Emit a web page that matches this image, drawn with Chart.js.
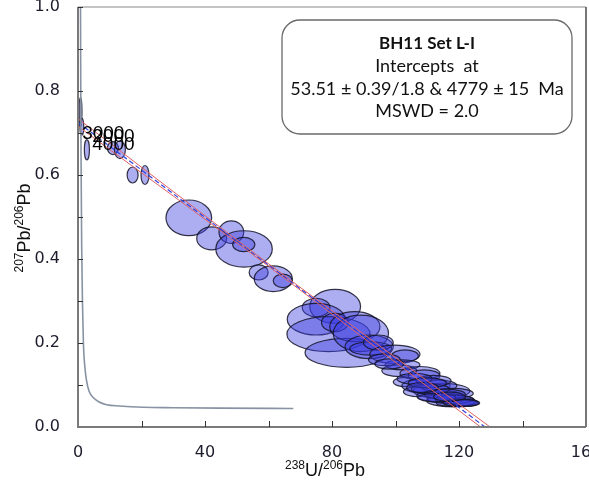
<!DOCTYPE html>
<html><head><meta charset="utf-8">
<script src="https://cdn.jsdelivr.net/npm/chart.js@4.4.0/dist/chart.umd.min.js"></script>
<style>html,body{margin:0;padding:0;background:#fff;}#wrap{width:589px;height:483px;}</style>
</head><body><div id="wrap"><canvas id="c" width="589" height="483"></canvas></div>
<script>
// Tick labels
const xTickLabels = ['0', '40', '80', '120', '160'];
const yTickLabels = ['0.0', '0.2', '0.4', '0.6', '0.8', '1.0'];

// Concordia curve
const concX = [0.79, 0.85, 0.91, 1.0, 1.16, 1.4, 1.7, 2.2, 2.7, 3.5, 4.8, 6.5, 9.0, 13, 20.6, 30, 45, 67.8];
const concY = [1.0, 0.84, 0.72, 0.60, 0.43, 0.30, 0.20, 0.14, 0.11, 0.085, 0.070, 0.060, 0.053, 0.050, 0.047, 0.046, 0.045, 0.044];

// Discordia regression line and error envelope
const discX = [0, 60, 128.2];
const discY = [0.725, 0.3857, 0];
const envUpX = [0, 60, 129.8];
const envUpY = [0.734, 0.3887, 0];
const envLoX = [0, 60, 126.8];
const envLoY = [0.716, 0.3827, 0];

// Error ellipses: centre (x, y) and semi-axes (rx in 238U/206Pb, ry in 207Pb/206Pb)
const ellX  = [0.8, 1.2, 2.8, 11.0, 13.2, 17.2, 21.1, 34.9, 42.1, 48.3, 52.3, 52.2, 56.9, 61.5, 64.5,
               81.0, 75.0, 75.0, 78.9, 84.6, 80.9, 87.2, 89.1, 91.7, 92.2, 94.6, 99.8, 103.0, 101.2, 102.2,
               107.7, 103.2, 109.6, 114.5, 107.2, 117.4, 114.0, 119.5, 113.5, 109.0, 118.0, 112.0, 116.0, 121.0,
               111.0, 115.5, 118.5, 120.5, 113.0, 117.0, 106.0, 110.0, 122.0, 108.5, 96.5, 98.0];
const ellY  = [0.75, 0.715, 0.66, 0.664, 0.66, 0.600, 0.600, 0.498, 0.449, 0.464, 0.424, 0.4345, 0.368, 0.353, 0.348,
               0.287, 0.2845, 0.2567, 0.221, 0.1767, 0.249, 0.2388, 0.223, 0.191, 0.187, 0.201, 0.173, 0.1695, 0.134, 0.148,
               0.128, 0.107, 0.098, 0.086, 0.084, 0.0624, 0.074, 0.0564, 0.098, 0.122, 0.080, 0.110, 0.068, 0.060,
               0.090, 0.078, 0.066, 0.058, 0.070, 0.072, 0.115, 0.105, 0.057, 0.094, 0.160, 0.150];
const ellRx = [0.45, 0.6, 0.8, 1.73, 1.73, 1.73, 1.26, 7.2, 4.7, 3.9, 8.9, 3.5, 3.0, 6.0, 3.0,
               8.0, 4.36, 9.1, 13.1, 13.1, 4.2, 7.9, 8.7, 7.6, 6.6, 4.7, 7.9, 4.2, 5.5, 5.5,
               6.3, 3.9, 7.6, 8.9, 4.7, 7.6, 7.3, 6.6, 5.8, 5.0, 6.5, 5.5, 6.0, 4.5,
               6.0, 6.5, 6.0, 5.5, 6.0, 5.0, 5.5, 6.0, 4.5, 5.0, 5.0, 4.5];
const ellRy = [0.035, 0.02, 0.024, 0.0155, 0.021, 0.019, 0.0226, 0.0425, 0.0274, 0.027, 0.0433, 0.0171, 0.018, 0.0305, 0.016,
               0.0405, 0.022, 0.0377, 0.0417, 0.0345, 0.022, 0.0357, 0.0436, 0.028, 0.016, 0.018, 0.022, 0.014, 0.014, 0.012,
               0.016, 0.011, 0.018, 0.018, 0.012, 0.014, 0.014, 0.008, 0.014, 0.014, 0.012, 0.013, 0.012, 0.009,
               0.012, 0.012, 0.010, 0.008, 0.010, 0.011, 0.013, 0.012, 0.008, 0.012, 0.014, 0.012];

// Concordia age labels (cluttered near the upper intercept)
const ageLabels = ['3000', '2000', '4000'];
const ageLabelX = [1.3, 4.5, 4.5];
const ageLabelY = [0.697, 0.690, 0.672];

const pts = (xs, ys) => xs.map((v, i) => ({x: v, y: ys[i]}));

const ellipsePlugin = {
  id: 'ellipses',
  beforeDatasetsDraw(chart) {
    const {ctx, chartArea: a, scales: {x, y}} = chart;
    ctx.save();
    ctx.beginPath(); ctx.rect(a.left, a.top, a.right - a.left, a.bottom - a.top); ctx.clip();
    for (let i = 0; i < ellX.length; i++) {
      const cx = x.getPixelForValue(ellX[i]), cy = y.getPixelForValue(ellY[i]);
      const rx = Math.abs(x.getPixelForValue(ellX[i] + ellRx[i]) - cx);
      const ry = Math.abs(y.getPixelForValue(ellY[i] + ellRy[i]) - cy);
      ctx.beginPath();
      ctx.ellipse(cx, cy, rx, ry, 0, 0, Math.PI * 2);
      ctx.fillStyle = 'rgba(60,60,225,0.42)';
      ctx.fill();
      ctx.lineWidth = 1.2;
      ctx.strokeStyle = 'rgba(20,20,40,0.85)';
      ctx.stroke();
    }
    ctx.restore();
  }
};

const decorPlugin = {
  id: 'decor',
  afterDraw(chart) {
    const {ctx, chartArea: a, scales: {x, y}} = chart;
    ctx.save();
    // age labels
    ctx.fillStyle = '#000';
    ctx.font = '19px "Liberation Sans", Arial, sans-serif';
    ctx.textBaseline = 'middle';
    ctx.textAlign = 'left';
    ageLabels.forEach((t, i) => ctx.fillText(t, x.getPixelForValue(ageLabelX[i]), y.getPixelForValue(ageLabelY[i])));

    // frame
    ctx.strokeStyle = '#8a8a8a';
    ctx.lineWidth = 1.2;
    ctx.beginPath();
    ctx.moveTo(a.left, a.top); ctx.lineTo(a.right, a.top); ctx.stroke();
    ctx.strokeStyle = '#555';
    ctx.lineWidth = 1.6;
    ctx.beginPath(); ctx.moveTo(a.right, a.top); ctx.lineTo(a.right, a.bottom); ctx.stroke();
    ctx.strokeStyle = '#7a7a7a';
    ctx.lineWidth = 2;
    ctx.beginPath(); ctx.moveTo(a.left, a.top); ctx.lineTo(a.left, a.bottom); ctx.lineTo(a.right, a.bottom); ctx.stroke();

    // inward ticks
    ctx.strokeStyle = '#333';
    ctx.lineWidth = 1;
    x.ticks.forEach(t => {
      const px = Math.round(x.getPixelForValue(t.value)) + 0.5;
      if (t.value <= 0 || t.value >= 160) return;
      ctx.beginPath(); ctx.moveTo(px, a.bottom); ctx.lineTo(px, a.bottom - 6); ctx.stroke();
    });
    y.ticks.forEach(t => {
      const py = Math.round(y.getPixelForValue(t.value)) + 0.5;
      if (t.value <= 0) return;
      ctx.beginPath(); ctx.moveTo(a.left, py); ctx.lineTo(a.left + 5, py); ctx.stroke();
    });

    // x axis title 238U/206Pb
    const big = '18px "Liberation Sans", Arial, sans-serif';
    const sm = '12px "Liberation Sans", Arial, sans-serif';
    const parts = [['238', sm, -7], ['U/', big, 0], ['206', sm, -7], ['Pb', big, 0]];
    let w0 = 0;
    parts.forEach(p => { ctx.font = p[1]; w0 += ctx.measureText(p[0]).width; });
    let x0 = (a.left + a.right) / 2 - 7 - w0 / 2;
    ctx.textAlign = 'left'; ctx.textBaseline = 'alphabetic';
    ctx.fillStyle = '#111';
    parts.forEach(p => { ctx.font = p[1]; ctx.fillText(p[0], x0, 476 + p[2]); x0 += ctx.measureText(p[0]).width; });
    ctx.restore();

    // y axis title 207Pb/206Pb
    ctx.save();
    ctx.translate(30, 228);
    ctx.rotate(-Math.PI / 2);
    const yparts = [['207', sm, -7], ['Pb/', big, 0], ['206', sm, -7], ['Pb', big, 0]];
    let w = 0;
    yparts.forEach(p => { ctx.font = p[1]; w += ctx.measureText(p[0]).width; });
    let xx = -w / 2;
    ctx.fillStyle = '#111'; ctx.textAlign = 'left'; ctx.textBaseline = 'alphabetic';
    yparts.forEach(p => { ctx.font = p[1]; ctx.fillText(p[0], xx, p[2]); xx += ctx.measureText(p[0]).width; });
    ctx.restore();

    // annotation box
    ctx.save();
    const bx = 282, by = 20, bw = 290, bh = 114, r = 18;
    ctx.beginPath();
    ctx.roundRect(bx, by, bw, bh, r);
    ctx.fillStyle = '#fff'; ctx.fill();
    ctx.strokeStyle = '#6a6a6a'; ctx.lineWidth = 1.3; ctx.stroke();
    ctx.fillStyle = '#111'; ctx.textAlign = 'center'; ctx.textBaseline = 'middle';
    const cxb = bx + bw / 2;
    ctx.font = 'bold 17px Lato, "Open Sans", sans-serif';
    ctx.fillText('BH11 Set L-I', cxb, 44);
    ctx.font = '18px Lato, "Open Sans", sans-serif';
    ctx.fillText('Intercepts  at', cxb, 66);
    ctx.fillText('53.51 \u00b1 0.39/1.8 & 4779 \u00b1 15  Ma', cxb, 89);
    ctx.fillText('MSWD = 2.0', cxb, 111);
    ctx.restore();
  }
};

new Chart(document.getElementById('c'), {
  type: 'line',
  data: {
    datasets: [
      {data: pts(concX, concY), borderColor: '#8793a3', borderWidth: 1.6, pointRadius: 0, cubicInterpolationMode: 'monotone', fill: false},
      {data: pts(envUpX, envUpY), borderColor: '#e06060', borderWidth: 1, pointRadius: 0, tension: 0.3, fill: false},
      {data: pts(envLoX, envLoY), borderColor: '#e06060', borderWidth: 1, pointRadius: 0, tension: 0.3, fill: false},
      {data: pts(discX, discY), borderColor: '#2f3fe0', borderWidth: 1.2, borderDash: [5, 3], pointRadius: 0, fill: false}
    ]
  },
  options: {
    responsive: false,
    animation: false,
    events: [],
    layout: {padding: {top: 7, right: 3, left: 0, bottom: 0}},
    plugins: {legend: {display: false}, tooltip: {enabled: false}, title: {display: false}},
    scales: {
      x: {
        type: 'linear', min: 0, max: 160,
        grid: {display: false, drawTicks: false},
        border: {display: false},
        ticks: {
          stepSize: 20, autoSkip: false, maxRotation: 0, padding: 16,
          color: '#1c1c2c', font: {family: '"DejaVu Sans", Verdana, sans-serif', size: 16},
          callback: v => (v % 40 === 0 ? xTickLabels[v / 40] : '')
        },
        afterFit: s => { s.height = 56; s.paddingLeft = 0; s.paddingRight = 0; }
      },
      y: {
        type: 'linear', min: 0, max: 1,
        grid: {display: false, drawTicks: false},
        border: {display: false},
        ticks: {
          stepSize: 0.1, autoSkip: false, padding: 18,
          color: '#1c1c2c', font: {family: '"DejaVu Sans", Verdana, sans-serif', size: 16},
          callback: v => { const k = Math.round(v * 10); return k % 2 === 0 ? yTickLabels[k / 2] : ''; }
        },
        afterFit: s => { s.width = 78; s.paddingTop = 0; s.paddingBottom = 0; }
      }
    }
  },
  plugins: [ellipsePlugin, decorPlugin]
});
</script></body></html>
